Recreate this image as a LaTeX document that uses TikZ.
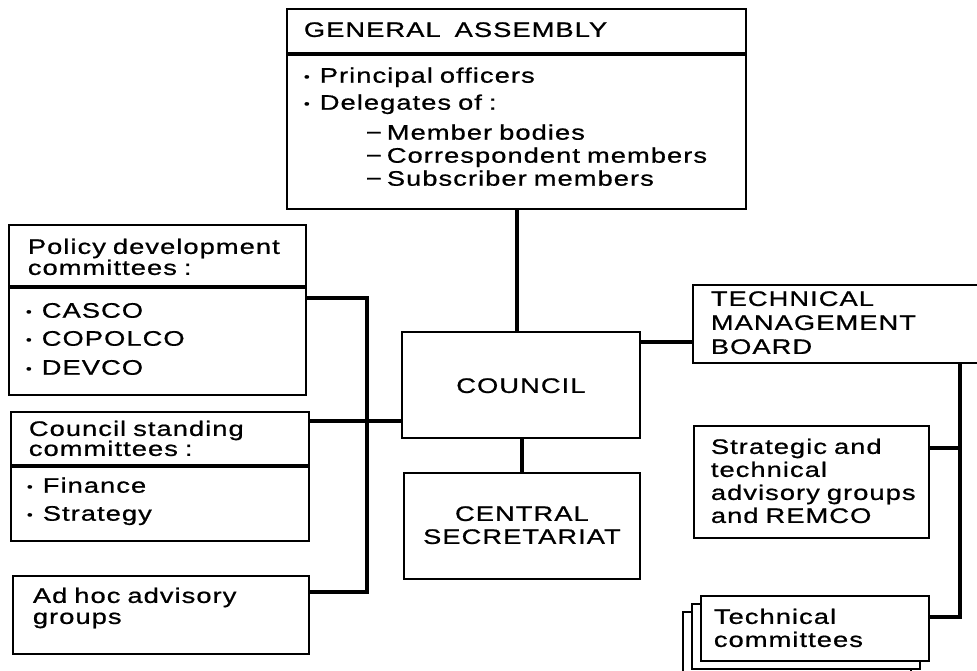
\documentclass[tikz,border=0pt]{standalone}
\usepackage{fontspec}
\setmainfont{Liberation Sans}[FakeStretch=1.3,LetterSpace=5,FakeBold=0.8]
\usepackage{tikz}

\newcommand{\itm}{\hspace*{-2pt}\raisebox{1.5pt}{\fontsize{13}{13}\selectfont •}\hspace{10pt}}
\newcommand{\sub}{\hspace*{60pt}−\hspace{5pt}}

\tikzset{
	box/.style={draw=black, line width=1.8pt, fill=white, rectangle, anchor=north west,
		inner ysep=0pt, align=left},
	link/.style={draw=black, line width=3.6pt},
	head/.style={font=\fontsize{21}{21}\selectfont},
}

\begin{document}
\begin{tikzpicture}[x=1pt, y=-1pt, font=\fontsize{21}{23}\selectfont]

\useasboundingbox (0,0) rectangle (977,671);
\clip (0,0) rectangle (977,671);

\begin{scope}
	% general assembly
	\node[box, text width=425, inner xsep=17, text height=28, text depth=16] (GAhead) at (286,8) {GENERAL~~ASSEMBLY};
	\node[box, text width=421, inner xsep=19, text height=28, text depth=126] (GAbody) at (GAhead.south west)
		{\itm Principal officers\\[4pt]
		 \itm Delegates of :\\[7pt]
		 \sub Member bodies\\
		 \sub Correspondent members\\
		 \sub Subscriber members};

	% left column
	\node[box, head, text width=259, inner xsep=19, text height=29, text depth=32] (PDhead) at (8,224) {Policy development\\committees :};
	\node[box, text width=259, inner xsep=19, text height=30, text depth=77] (PDbody) at (PDhead.south west)
		{\itm CASCO\\[5pt]\itm COPOLCO\\[6pt]\itm DEVCO};
	\node[box, head, text width=262, inner xsep=18, text height=24, text depth=29] (CShead) at (10,411) {Council standing\\[-1pt]committees :};
	\node[box, text width=262, inner xsep=18, text height=26, text depth=48] (CSbody) at (CShead.south west)
		{\itm Finance\\[5pt]\itm Strategy};
	\node[box, head, text width=256, inner xsep=20, text height=27, text depth=51] (AH) at (12,575) {Ad hoc advisory\\groups};

	% middle
	\node[box, align=center, text width=218, inner xsep=10, text height=61, text depth=45] (CO) at (401,331) {COUNCIL};
	\node[box, align=center, text width=216, inner xsep=10, text height=48, text depth=58] (SE) at (403,472) {CENTRAL\\SECRETARIAT};

	% right column
	\node[box, text width=272, inner xsep=18, text height=21, text depth=57] (TMB) at (692,284) {TECHNICAL\\[1pt]MANAGEMENT\\[1pt]BOARD};
	\node[box, text width=201, inner xsep=17, text height=28, text depth=84] (SAG) at (693,425) {Strategic and\\technical\\advisory~groups\\and REMCO};
	\node[box, minimum width=228, minimum height=65, inner sep=0pt] (TC3) at (682,611) {};
	\node[box, minimum width=228, minimum height=65, inner sep=0pt] (TC2) at (691,603) {};
	\node[box, text width=202, inner xsep=13, text height=28, text depth=37] (TC) at (700,595) {Technical\\committees};

	\coordinate (GAlink) at (517,0);
	\coordinate (busT) at (367,298);
	\coordinate (busB) at (367,592);
	\coordinate (CSlink) at (367,421);
	\coordinate (TMlink) at (665,342);
	\coordinate (SAGlink) at (960,448);
	\coordinate (tmbus) at (960,617);
\end{scope}

\begin{scope}[every edge/.style={link}]
	\path (GAlink |- GAbody.south) edge (GAlink |- CO.north);
	\path (SE.north |- CO.south) edge (SE.north);

	\draw[link] (PDbody.east |- busT) -- (busT) -- (busB) -- (AH.east |- busB);
	\path (CShead.east |- CSlink) edge (CO.west |- CSlink);

	\path (CO.east |- TMlink) edge (TMB.west |- TMlink);
	\draw[link] (TMB.south -| tmbus) -- (tmbus) -- (TC.east |- tmbus);
	\path (SAG.east |- SAGlink) edge (SAGlink);
\end{scope}

\end{tikzpicture}
\end{document}
